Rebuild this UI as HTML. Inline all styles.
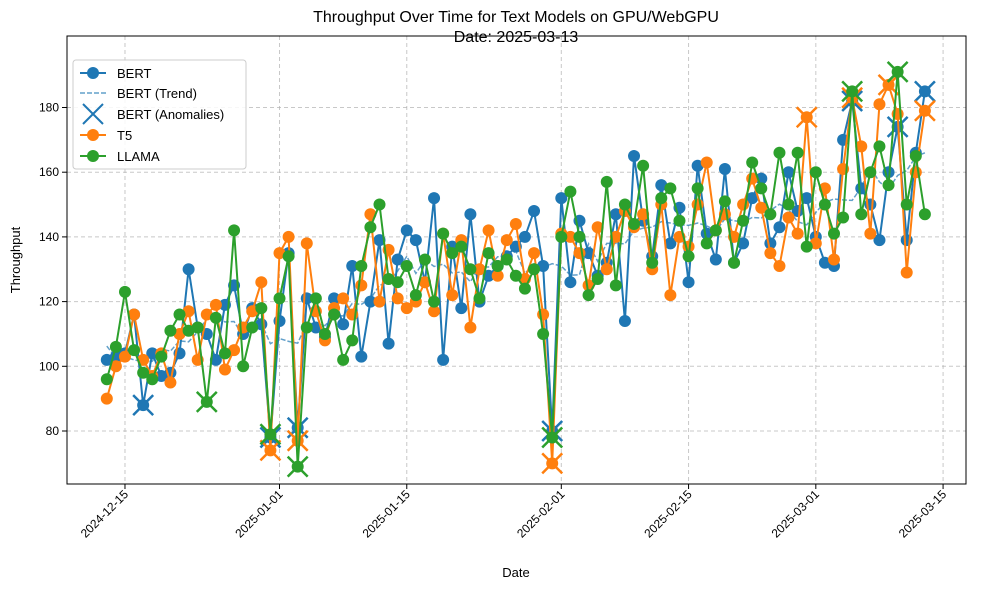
<!DOCTYPE html>
<html><head><meta charset="utf-8"><style>
body{margin:0;background:#fff;font-family:"Liberation Sans","DejaVu Sans",sans-serif}
svg text{font-family:"Liberation Sans","DejaVu Sans",sans-serif}
</style></head><body>
<svg id="chart" width="986" height="590" xmlns="http://www.w3.org/2000/svg">
<rect width="986" height="590" fill="#fff"/>
<text x="516" y="22" text-anchor="middle" font-size="16">Throughput Over Time for Text Models on GPU/WebGPU</text>
<text x="516" y="42" text-anchor="middle" font-size="16">Date: 2025-03-13</text>
<g id="grid"></g>
<g id="axes"></g>
<g id="plot"></g>
<rect x="67" y="36" width="899" height="448" fill="none" stroke="#000" stroke-width="1"/>
<text x="516" y="577" text-anchor="middle" font-size="13">Date</text>
<text transform="translate(20,260) rotate(-90)" text-anchor="middle" font-size="13">Throughput</text>
<g>
<rect x="73" y="60" width="173" height="109" rx="3" fill="#fff" fill-opacity="0.85" stroke="#ccc"/>
<g><line x1="80" y1="73" x2="106" y2="73" stroke="#1f77b4" stroke-width="2"/><circle cx="93" cy="73" r="6" fill="#1f77b4"/><text x="117" y="78" font-size="13">BERT</text></g>
<g><line x1="80" y1="93" x2="106" y2="93" stroke="#1f77b4" stroke-opacity="0.7" stroke-width="1.5" stroke-dasharray="5,2"/><text x="117" y="98" font-size="13">BERT (Trend)</text></g>
<g><path d="M83 104 L103 124 M103 104 L83 124" stroke="#1f77b4" stroke-width="2"/><text x="117" y="119" font-size="13">BERT (Anomalies)</text></g>
<g><line x1="80" y1="135" x2="106" y2="135" stroke="#ff7f0e" stroke-width="2"/><circle cx="93" cy="135" r="6" fill="#ff7f0e"/><text x="117" y="140" font-size="13">T5</text></g>
<g><line x1="80" y1="156" x2="106" y2="156" stroke="#2ca02c" stroke-width="2"/><circle cx="93" cy="156" r="6" fill="#2ca02c"/><text x="117" y="161" font-size="13">LLAMA</text></g>
</g>
</svg>
<script>
const startDate = "2024-12-13";
const bertValues = [102,103,104,116,88,104,97,98,104,130,112,110,102,119,125,110,118,113,78,114,135,81,121,112,109,121,113,131,103,120,139,107,133,142,139,126,152,102,137,118,147,120,128,131,134,137,140,148,131,80,152,126,145,135,128,132,147,114,165,145,134,156,138,149,126,162,141,133,161,132,138,152,158,138,143,160,148,152,140,132,131,170,182,155,150,139,160,174,139,166,185];
const t5Values = [90,100,103,116,102,97,104,95,110,117,102,116,119,99,105,112,117,126,74,135,140,77,138,117,108,118,121,116,125,147,120,136,121,118,120,126,117,141,122,139,112,130,142,128,139,144,127,135,116,70,141,140,135,125,143,130,140,148,143,147,130,150,122,140,137,150,163,142,147,140,150,158,149,135,131,146,141,177,138,155,133,161,183,168,141,181,187,178,129,160,179];
const llamaValues = [96,106,123,105,98,96,103,111,116,111,112,89,115,104,142,100,112,118,79,121,134,69,112,121,110,116,102,108,131,143,150,127,126,131,122,133,120,141,135,137,130,121,135,131,133,128,124,130,110,78,140,154,140,122,127,157,125,150,144,162,132,152,155,145,134,155,138,142,151,132,145,163,155,147,166,150,166,137,160,150,141,146,185,147,160,168,156,191,150,165,147];
const bertAnomalies = [4,18,21,49,82,87,90];
const t5Anomalies = [18,21,49,77,82,86,90];
const llamaAnomalies = [11,18,21,49,82,87];
const yTicks = [80,100,120,140,160,180];
const xTickLabels = ["2024-12-15","2025-01-01","2025-01-15","2025-02-01","2025-02-15","2025-03-01","2025-03-15"];

const NS="http://www.w3.org/2000/svg";
const DAY=86400000, t0=Date.parse(startDate+"T00:00:00Z");
const xDay=d=>106.8+d*9.09;
const xDate=s=>xDay((Date.parse(s+"T00:00:00Z")-t0)/DAY);
const y=v=>431-(v-80)*3.235;
function mk(tag,attrs,parent){const e=document.createElementNS(NS,tag);for(const k in attrs)e.setAttribute(k,attrs[k]);parent.appendChild(e);return e;}
const grid=document.getElementById('grid'),axes=document.getElementById('axes'),plot=document.getElementById('plot');
yTicks.forEach(v=>{
  const g=mk('line',{x1:67,x2:966,y1:y(v),y2:y(v),stroke:'#b0b0b0','stroke-dasharray':'4,3','stroke-opacity':0.7},grid);
  
  
  const t=mk('line',{x1:62,x2:67,y1:y(v),y2:y(v),stroke:'#000'},axes);
  
  
  const l=mk('text',{x:59,y:y(v)+4,'text-anchor':'end','font-size':12},axes);l.textContent=v;
  
  
});
xTickLabels.forEach(s=>{
  const x=xDate(s);
  const g=mk('line',{x1:x,x2:x,y1:36,y2:484,stroke:'#b0b0b0','stroke-dasharray':'4,3','stroke-opacity':0.7},grid);
  
  
  const t=mk('line',{x1:x,x2:x,y1:484,y2:489,stroke:'#000'},axes);
  
  
  const l=mk('text',{x:0,y:0,'text-anchor':'end','font-size':12,transform:`translate(${x+4},${495}) rotate(-45)`},axes);l.textContent=s;
  
  
});
function series(vals,color,name){
  const g=mk('g',{},plot);
  
  
  mk('polyline',{points:vals.map((v,i)=>xDay(i)+','+y(v)).join(' '),fill:'none',stroke:color,'stroke-width':2},g);
  vals.forEach((v,i)=>{const c=mk('circle',{cx:xDay(i),cy:y(v),r:6,fill:color},g);
    
    });
}
function anomalies(vals,idx,color,name){
  idx.forEach(i=>{const x=xDay(i),yy=y(vals[i]);
    const p=mk('path',{d:`M${x-10} ${yy-10}L${x+10} ${yy+10}M${x+10} ${yy-10}L${x-10} ${yy+10}`,stroke:color,'stroke-width':2.5},plot);
    
    });
}
series(bertValues,'#1f77b4','bert');
const trend=bertValues.map((v,i)=>{const a=bertValues.slice(Math.max(0,i-3),i+4);return a.reduce((s,x)=>s+x,0)/a.length;});
const tl=mk('polyline',{points:trend.map((v,i)=>xDay(i)+','+y(v)).join(' '),fill:'none',stroke:'#1f77b4','stroke-opacity':0.7,'stroke-width':1.5,'stroke-dasharray':'5,2'},plot);


anomalies(bertValues,bertAnomalies,'#1f77b4','bert');
series(t5Values,'#ff7f0e','t5');
anomalies(t5Values,t5Anomalies,'#ff7f0e','t5');
series(llamaValues,'#2ca02c','llama');
anomalies(llamaValues,llamaAnomalies,'#2ca02c','llama');
</script>
</body></html>
